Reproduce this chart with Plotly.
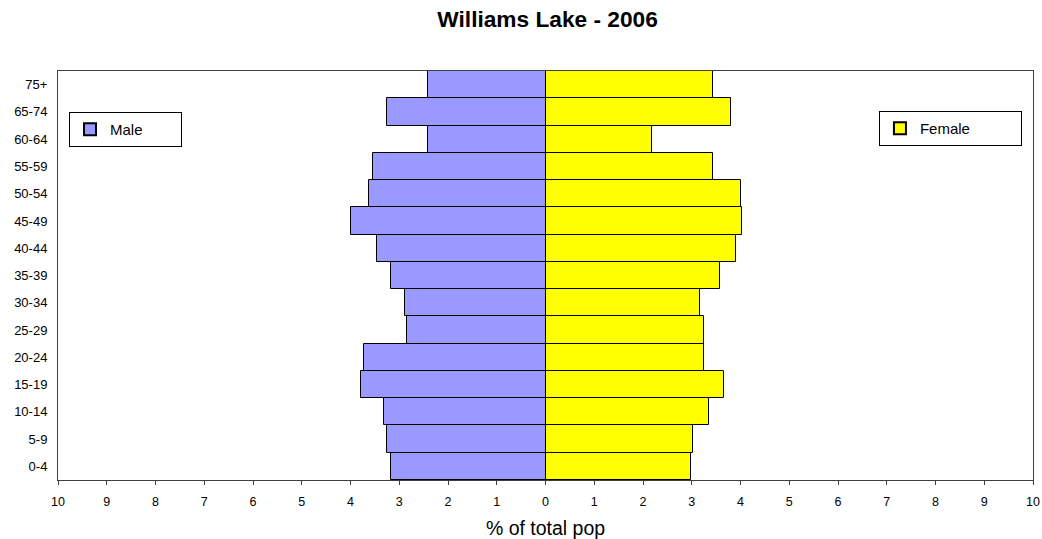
import plotly.graph_objects as go

# Age groups, bottom to top
age_groups = ["0-4", "5-9", "10-14", "15-19", "20-24", "25-29", "30-34",
              "35-39", "40-44", "45-49", "50-54", "55-59", "60-64", "65-74", "75+"]

# Share of total population (%)
male_pct = [3.16, 3.26, 3.31, 3.78, 3.73, 2.84, 2.89,
            3.16, 3.45, 4.00, 3.63, 3.54, 2.42, 3.26, 2.42]
female_pct = [2.98, 3.02, 3.35, 3.67, 3.25, 3.25, 3.16,
              3.57, 3.90, 4.04, 4.00, 3.44, 2.18, 3.80, 3.44]

tick_vals = list(range(-10, 11))
tick_text = [str(abs(v)) for v in tick_vals]

FONT = "Liberation Sans, Arial, sans-serif"

fig = go.Figure()
fig.add_trace(go.Bar(
    y=age_groups, x=[-v for v in male_pct], orientation="h", name="Male",
    marker=dict(color="#9999FF", line=dict(color="black", width=1)),
    legend="legend",
))
fig.add_trace(go.Bar(
    y=age_groups, x=female_pct, orientation="h", name="Female",
    marker=dict(color="#FFFF00", line=dict(color="black", width=1)),
    legend="legend2",
))

legend_style = dict(
    visible=True, orientation="h", entrywidthmode="pixels",
    bgcolor="white", bordercolor="black", borderwidth=1,
    font=dict(family=FONT, size=15, color="black"),
    xanchor="left", yanchor="top", itemsizing="constant",
)

fig.update_layout(
    width=1042, height=539,
    margin=dict(l=58, r=9, t=71, b=59, autoexpand=False),
    paper_bgcolor="white", plot_bgcolor="white",
    barmode="relative", bargap=0, showlegend=True,
    font=dict(family=FONT, size=12, color="black"),
    title=dict(text="<b>Williams Lake - 2006</b>", x=0.5255, xanchor="center",
               y=0.965, yanchor="middle", font=dict(size=22.7)),
    xaxis=dict(
        range=[-10, 10], tickmode="array", tickvals=tick_vals, ticktext=tick_text,
        ticks="outside", ticklen=4, tickcolor="#404040", tickfont=dict(size=12.5),
        ticklabelstandoff=6,
        showgrid=False, zeroline=True, zerolinecolor="black", zerolinewidth=2,
        showline=True, linecolor="#404040", linewidth=1, mirror=True,
        title=dict(text="% of total pop", font=dict(size=19.5), standoff=13),
        automargin=False, fixedrange=True,
    ),
    yaxis=dict(
        showgrid=False, ticks="", showline=True, linecolor="#404040",
        linewidth=1, mirror=True, ticklabelstandoff=7, tickfont=dict(size=13),
        automargin=False,
    ),
    legend=dict(x=0.0113, y=0.90, entrywidth=66, **legend_style),
    legend2=dict(x=0.842, y=0.902, entrywidth=96, **legend_style),
)

fig.write_html("out.html")
